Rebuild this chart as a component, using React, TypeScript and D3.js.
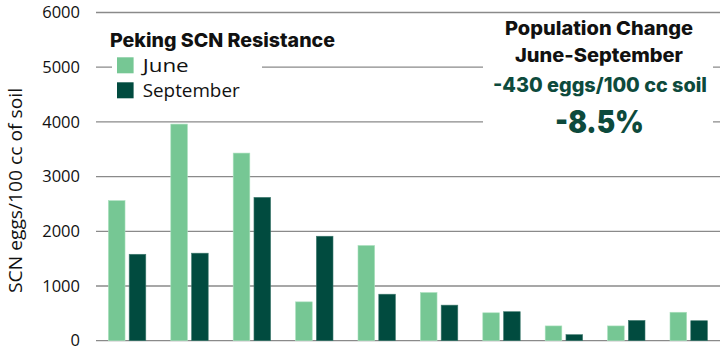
import React from "react";
import * as d3 from "d3";

const sites = ["1", "2", "3", "4", "5", "6", "7", "8", "9", "10"];
const seriesNames = ["June", "September"];
const juneValues = [2560, 3960, 3430, 710, 1740, 880, 510, 270, 270, 520];
const septemberValues = [1580, 1600, 2620, 1910, 850, 650, 530, 110, 370, 365];
const yTicks = [0, 1000, 2000, 3000, 4000, 5000, 6000];
const legendTitle = "Peking SCN Resistance";
const yAxisTitle = "SCN eggs/100 cc of soil";
const noteLines = ["Population Change", "June-September"];
const noteEggs = "-430 eggs/100 cc soil";
const notePct = "-8.5%";

const COLORS: Record<string, string> = { June: "#76c794", September: "#014b3f" };
const TEXT_GREEN = "#0d4a3c";
const W = 720;
const H = 353;
const BOLD_FONT = "Inter, Lato, sans-serif";
const REG_FONT = "'Open Sans', 'Noto Sans', sans-serif";

export default function App() {
  const y = d3.scaleLinear().domain([0, 6000]).range([340.7, 12.5]);
  const x0 = d3.scaleBand<string>().domain(sites).range([96, 720]).padding(0);
  const x1 = d3.scaleBand<string>().domain(seriesNames).range([12.4, 49.8]).paddingInner(0.2);
  const data = [juneValues, septemberValues];
  const noteWidths = [188, 168];
  const legendWidths = [46, 97];

  return (
    <svg width={W} height={H} style={{ position: "absolute", left: 0, top: 0, background: "#fff" }}>
      {/* gridlines */}
      {yTicks.map((t) => (
        <line key={t} x1={96} x2={720} y1={y(t)} y2={y(t)} stroke="#8a8a8a" strokeWidth={1.3} />
      ))}
      {/* tick labels */}
      {yTicks.map((t) => (
        <text key={"l" + t} x={80} y={y(t)} dy="0.35em" textAnchor="end" fontFamily={REG_FONT} fontSize={16.5} fill="#111">
          {t}
        </text>
      ))}
      <text
        transform={`translate(21.5,${190.5}) rotate(-90)`}
        textAnchor="middle"
        fontFamily={REG_FONT}
        fontSize={17.5}
        textLength={205}
        lengthAdjust="spacingAndGlyphs"
        fill="#111"
      >
        {yAxisTitle}
      </text>

      {/* legend box */}
      <rect x={112} y={20} width={150} height={86} fill="#fff" />
      <text x={110} y={46.7} fontFamily={BOLD_FONT} fontWeight={800} fontSize={19} textLength={225} lengthAdjust="spacingAndGlyphs" fill="#111">
        {legendTitle}
      </text>
      {seriesNames.map((s, i) => (
        <g key={s} transform={`translate(117,${57.3 + i * 25})`}>
          <rect width={16.6} height={16} fill={COLORS[s]} />
          <text x={25.7} y={14.6} fontFamily={REG_FONT} fontSize={18.5} textLength={legendWidths[i]} lengthAdjust="spacingAndGlyphs" fill="#111">
            {s}
          </text>
        </g>
      ))}

      {/* annotation box */}
      <rect x={483} y={14} width={230} height={140} fill="#fff" />
      {noteLines.map((l, i) => (
        <text
          key={l}
          x={599}
          y={35 + i * 27}
          textAnchor="middle"
          fontFamily={BOLD_FONT}
          fontWeight={800}
          fontSize={19}
          textLength={noteWidths[i]}
          lengthAdjust="spacingAndGlyphs"
          fill="#111"
        >
          {l}
        </text>
      ))}
      <text x={600} y={92} textAnchor="middle" fontFamily={BOLD_FONT} fontWeight={800} fontSize={19.5} textLength={214} lengthAdjust="spacingAndGlyphs" fill={TEXT_GREEN}>
        {noteEggs}
      </text>
      <text x={599.5} y={132.7} textAnchor="middle" fontFamily={BOLD_FONT} fontWeight={900} fontSize={31} textLength={89} lengthAdjust="spacingAndGlyphs" fill={TEXT_GREEN}>
        {notePct}
      </text>

      {/* bars */}
      {sites.map((site, i) => (
        <g key={site} transform={`translate(${x0(site)},0)`}>
          {seriesNames.map((s, j) => (
            <rect
              key={s}
              x={x1(s)}
              y={y(data[j][i])}
              width={x1.bandwidth()}
              height={y(0) - y(data[j][i])}
              fill={COLORS[s]}
              stroke={j === 0 ? "#a9e0bd" : "#3f7a6e"}
              strokeWidth={0.6}
            />
          ))}
        </g>
      ))}
    </svg>
  );
}
